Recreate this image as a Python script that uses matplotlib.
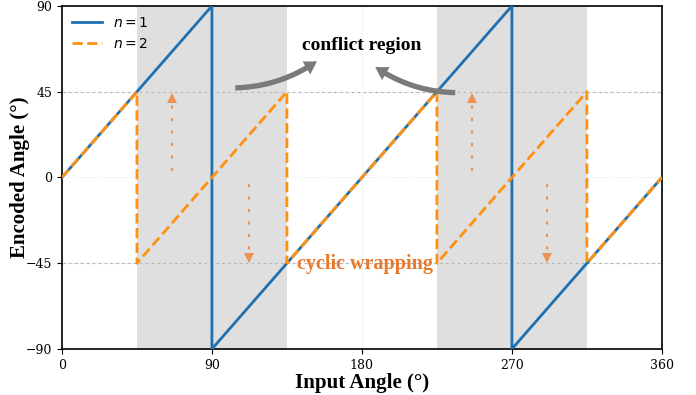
import numpy as np
import matplotlib
matplotlib.use("Agg")
import matplotlib.pyplot as plt

# encoded angle for n = 1 and n = 2 (jumps kept as explicit vertical segments)
n1X = [0, 90, 90, 270, 270, 360]
n1Y = [0, 90, -90, 90, -90, 0]
n2X = [0, 45, 45, 135, 135, 225, 225, 315, 315, 360]
n2Y = [0, 45, -45, 45, -45, 45, -45, 45, -45, 0]

conflictSpans = [(45, 135), (225, 315)]
xTicks = [0, 90, 180, 270, 360]
yTicks = [-90, -45, 0, 45, 90]

# dotted wrapping arrows: (x, yStart, yEnd)
wrapArrows = [(66, 4, 44), (112, -4, -45), (246, 4, 44), (291, -4, -45)]
# curved arrows towards the label: (xStart, yStart, xEnd, yEnd)
conflictArrows = [(104, 47, 153, 61), (236, 44.5, 188, 58)]

blue = "#1f70b0"
orange = "#ff9010"
arrowOrange = "#ee8a44"

plt.rcParams['font.family'] = 'DejaVu Serif'
fig = plt.figure(figsize=(6.96, 3.95), dpi=100)
ax = fig.add_axes([0.089, 0.1165, 0.862, 0.8685])

for a, b in conflictSpans:
    ax.axvspan(a, b, color="#dfdfdf", zorder=0, lw=0)

ax.grid(True, color="#e4e4e4", linestyle=":", linewidth=0.8, zorder=0.5)
for yv in [-45, 45]:
    ax.axhline(yv, color="#aaaaaa", linestyle="--", linewidth=0.8, zorder=1)

ax.plot(n1X, n1Y, color=blue, lw=2, label="$n=1$", zorder=3)
ax.plot(n2X, n2Y, color=orange, lw=2, linestyle="--", label="$n=2$", zorder=4)

for x, y0, y1 in wrapArrows:
    sgn = 1 if y1 > y0 else -1
    ax.plot([x, x], [y0, y1 - sgn * 5], color=arrowOrange, lw=1.6, linestyle=(0, (0.6, 5)),
            dash_capstyle="round", alpha=0.9, zorder=5)
    ax.plot([x], [y1 - sgn * 2.5], marker="^" if sgn > 0 else "v", ms=7, color=arrowOrange,
            mew=0, alpha=0.9, zorder=5)

for x0, y0, x1, y1 in conflictArrows:
    r = 0.15 if x1 > x0 else -0.15
    ax.annotate("", xy=(x1, y1), xytext=(x0, y0),
                arrowprops=dict(arrowstyle="simple,head_length=0.75,head_width=0.9,tail_width=0.32",
                                connectionstyle="arc3,rad=%.2f" % r, mutation_scale=12,
                                color="#7a7a7a", lw=0, shrinkA=0, shrinkB=0), zorder=6)

ax.text(180, 69, "conflict region", ha="center", va="center", fontsize=14,
        fontweight="bold", family="Liberation Serif", zorder=7)
ax.text(182, -45.5, "cyclic wrapping", ha="center", va="center", fontsize=14.5,
        fontweight="bold", family="Liberation Serif", color="#e8782a", zorder=7)

ax.set_xlim(0, 360)
ax.set_ylim(-90, 90)
ax.set_xticks(xTicks)
ax.set_yticks(yTicks)
ax.tick_params(labelsize=9)
ax.set_xlabel("Input Angle (°)", fontsize=15, fontweight="bold", family="Liberation Serif", labelpad=1)
ax.set_ylabel("Encoded Angle (°)", fontsize=15, fontweight="bold", family="Liberation Serif")
ax.yaxis.set_label_coords(-0.054, 0.5)
for s in ax.spines.values():
    s.set_linewidth(1.2)

leg = ax.legend(loc="upper left", frameon=False, prop={"family": "DejaVu Sans", "size": 10},
                handlelength=2.2, borderaxespad=0.3)

plt.savefig("out.png", dpi=100)
plt.close()
